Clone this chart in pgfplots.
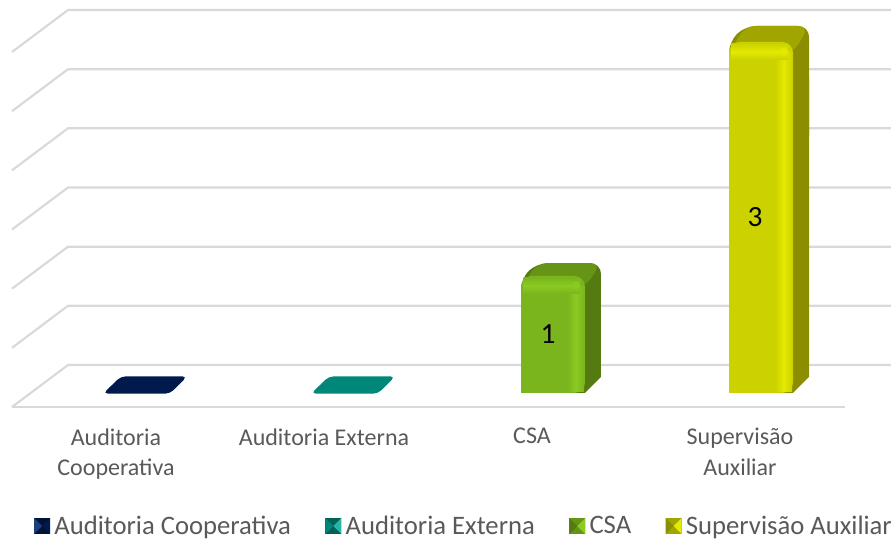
\documentclass[border=0pt]{standalone}
\usepackage{fontspec}
\setmainfont{Carlito}
\usepackage{pgfplots}
\pgfplotsset{compat=1.18}
\definecolor{gridc}{HTML}{D9D9D9}
\definecolor{labc}{HTML}{595959}
\definecolor{navy}{HTML}{001A4D}
\definecolor{navyd}{HTML}{001238}
\definecolor{navyl}{HTML}{1C3F7E}
\definecolor{teal2}{HTML}{00877A}
\definecolor{teald}{HTML}{006358}
\definecolor{teall}{HTML}{2BB3A5}
\definecolor{gfront}{HTML}{7AB51D}
\definecolor{gside}{HTML}{547A12}
\definecolor{gtop}{HTML}{659417}
\definecolor{glight}{HTML}{8BCB22}
\definecolor{yfront}{HTML}{CCD200}
\definecolor{yside}{HTML}{8A8E00}
\definecolor{ytop}{HTML}{A0A500}
\definecolor{ylight}{HTML}{E4EA00}
\newcommand{\legsq}[3]{%
  \fill[#1, sharp corners] (0pt,-6pt) -- (12pt,-6pt) -- (12pt,6pt) -- (0pt,6pt) -- cycle;
  \fill[#2, sharp corners] (0pt,-6pt) -- (6pt,0pt) -- (0pt,6pt) -- cycle;
  \fill[#3, sharp corners] (12pt,-6pt) -- (6pt,0pt) -- (12pt,6pt) -- cycle;
}
\begin{document}
\begin{tikzpicture}
\begin{axis}[
  scale only axis,
  width=668.25pt, height=405.75pt,
  xmin=-0.5577, xmax=3.7260,
  ymin=-1.265, ymax=3.359,
  clip=false,
  axis line style={draw=none},
  major tick length=0pt,
  ytick=\empty,
  xtick={0,1,2,3},
  xticklabels={Auditoria\\Cooperativa,Auditoria Externa,CSA,Supervisão\\Auxiliar},
  xticklabel style={align=center, text=labc, anchor=north, yshift=88pt,
    font=\fontsize{18}{23}\selectfont},
  legend columns=4,
  legend cell align=left,
  legend style={at={(axis cs:-0.394,-1.137)}, anchor=west, draw=none, fill=none,
    inner sep=0pt, outer sep=0pt, text=labc, font=\fontsize{20}{22}\selectfont,
    /tikz/every even column/.append style={column sep=23.8pt},
    /tikz/every odd column/.append style={column sep=1.2pt}},
]
% floor and back wall lines
\addplot[gridc, line width=1.6pt, forget plot] coordinates {(-0.5,-0.1197) (3.5048,-0.1197)};
\addplot[gridc, line width=1.6pt, forget plot] coordinates {(-0.5,-0.1197) (-0.2308,0.2393) (3.726,0.2393)};
\addplot[gridc, line width=1.6pt, forget plot] coordinates {(-0.5,0.3863) (-0.2308,0.7453) (3.726,0.7453)};
\addplot[gridc, line width=1.6pt, forget plot] coordinates {(-0.5,0.8915) (-0.2308,1.2504) (3.726,1.2504)};
\addplot[gridc, line width=1.6pt, forget plot] coordinates {(-0.5,1.3974) (-0.2308,1.7564) (3.726,1.7564)};
\addplot[gridc, line width=1.6pt, forget plot] coordinates {(-0.5,1.9034) (-0.2308,2.2624) (3.726,2.2624)};
\addplot[gridc, line width=1.6pt, forget plot] coordinates {(-0.5,2.4085) (-0.2308,2.7675) (3.726,2.7675)};
\addplot[gridc, line width=1.6pt, forget plot] coordinates {(-0.5,2.9145) (-0.2308,3.2735) (3.726,3.2735)};

% zero height bars, only the top face shows
\addplot[fill=navy, draw=none, rounded corners=3.5pt, forget plot] coordinates
  {(-0.0620,-0.005) (0.2600,-0.005) (0.3420,0.1420) (0.0240,0.1420)} --cycle;
\addplot[fill=teal2, draw=none, rounded corners=3.5pt, forget plot] coordinates
  {(0.9380,-0.005) (1.2600,-0.005) (1.3420,0.1420) (1.0240,0.1420)} --cycle;

% side and top of CSA
\addplot[fill=gside, draw=none, rounded corners=8pt, forget plot] coordinates
  {(2.2,0.3) (2.2548,0.3) (2.3317,0.4) (2.3317,1.11) (2.024,1.11) (1.9471,0.98) (1.9471,0.5) (2.2,0.5)} --cycle;
\addplot[fill=gside, draw=none, forget plot] coordinates
  {(2.2,0) (2.2548,0) (2.3317,0.1368) (2.3317,0.7) (2.2,0.7)} --cycle;
\addplot[fill=gtop, draw=none, rounded corners=8pt, forget plot] coordinates
  {(1.9471,0.9) (2.024,1.11) (2.3317,1.11) (2.2548,0.9)} --cycle;
% side and top of Supervisao
\addplot[fill=yside, draw=none, rounded corners=8pt, forget plot] coordinates
  {(3.2,2) (3.2548,2) (3.3317,2.1) (3.3317,3.1368) (3.024,3.1368) (2.9471,3) (2.9471,2.5) (3.2,2.5)} --cycle;
\addplot[fill=yside, draw=none, forget plot] coordinates
  {(3.2,0) (3.2548,0) (3.3317,0.1368) (3.3317,2.7) (3.2,2.7)} --cycle;
\addplot[fill=ytop, draw=none, rounded corners=8pt, forget plot] coordinates
  {(2.9471,2.9) (3.024,3.1368) (3.3317,3.1368) (3.2548,2.9)} --cycle;

% the four bars (front faces)
\addplot[ybar, bar width=48pt, bar shift=15.75pt, fill=navy, draw=none,
  legend image code/.code={\legsq{navyd}{navyl}{navy}}] coordinates {(0,0)};
\addlegendentry{Auditoria Cooperativa}
\addplot[ybar, bar width=48pt, bar shift=15.75pt, fill=teal2, draw=none,
  legend image code/.code={\legsq{teald}{teal2}{teall}}] coordinates {(1,0)};
\addlegendentry{Auditoria Externa}
\addplot[ybar, bar width=48pt, bar shift=15.75pt, fill=gfront, draw=none, rounded corners=8pt,
  legend image code/.code={\legsq{gtop}{gside}{glight}}] coordinates {(2,1)};
\addlegendentry{CSA}
\addplot[ybar, bar width=48pt, bar shift=15.75pt, fill=yfront, draw=none, rounded corners=8pt,
  legend image code/.code={\legsq{ytop}{yside}{ylight}}] coordinates {(3,3)};
\addlegendentry{Supervisão Auxiliar}

% square off the bottom left of the front faces
\addplot[fill=gfront, draw=none, forget plot] coordinates
  {(1.9471,0) (2.17,0) (2.17,0.3) (1.9471,0.3)} --cycle;
\addplot[fill=yfront, draw=none, forget plot] coordinates
  {(2.9471,0) (3.17,0) (3.17,0.3) (2.9471,0.3)} --cycle;

% bevels on the front faces
\addplot[draw=none, left color=gfront, right color=gfront, middle color=glight, forget plot] coordinates
  {(2.17,0.015) (2.25,0.015) (2.25,0.92) (2.17,0.92)} --cycle;
\addplot[draw=none, top color=gfront, bottom color=gfront, middle color=glight, forget plot] coordinates
  {(1.96,0.85) (2.23,0.85) (2.23,0.985) (1.96,0.985)} --cycle;
\addplot[draw=none, left color=yfront, right color=yfront, middle color=ylight, forget plot] coordinates
  {(3.17,0.015) (3.25,0.015) (3.25,2.92) (3.17,2.92)} --cycle;
\addplot[draw=none, top color=yfront, bottom color=yfront, middle color=ylight, forget plot] coordinates
  {(2.96,2.85) (3.23,2.85) (3.23,2.985) (2.96,2.985)} --cycle;

% small highlight where the bevels meet
\addplot[only marks, mark=*, mark size=2.6pt, mark options={draw=glight, fill=glight, opacity=0.8},
  forget plot] coordinates {(2.21,0.92)};
\addplot[only marks, mark=*, mark size=2.6pt, mark options={draw=ylight, fill=ylight, opacity=0.8},
  forget plot] coordinates {(3.21,2.92)};

% value labels
\addplot[draw=none, forget plot, point meta=explicit symbolic,
  nodes near coords, every node near coord/.append style={anchor=center, text=black,
  font=\fontsize{22}{24}\selectfont}] coordinates {(2.077,0.5) [1] (3.072,1.5) [3]};
\end{axis}
% the legend runs up to the right edge, keep the page at the reference size
\pgfresetboundingbox
\path[use as bounding box] (0,0) rectangle (668.25pt,405.75pt);
\end{tikzpicture}
\end{document}
